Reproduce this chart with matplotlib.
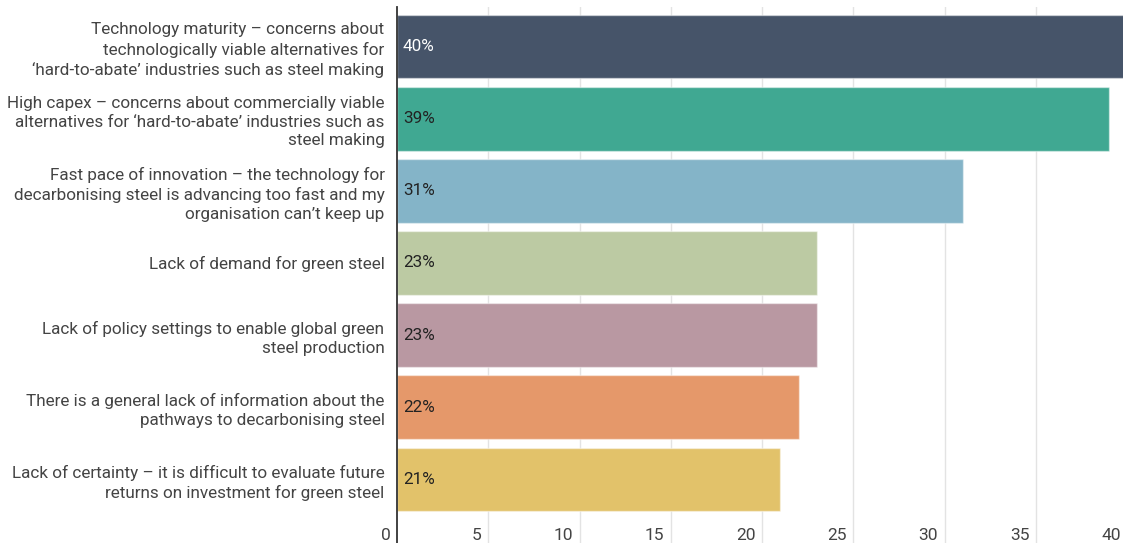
import matplotlib.pyplot as plt

plt.rcParams['font.family'] = ['Roboto', 'DejaVu Sans']

barriers = [
    "Technology maturity \u2013 concerns about\ntechnologically viable alternatives for\n\u2018hard-to-abate\u2019 industries such as steel making",
    "High capex \u2013 concerns about commercially viable\nalternatives for \u2018hard-to-abate\u2019 industries such as\nsteel making",
    "Fast pace of innovation \u2013 the technology for\ndecarbonising steel is advancing too fast and my\norganisation can\u2019t keep up",
    "Lack of demand for green steel",
    "Lack of policy settings to enable global green\nsteel production",
    "There is a general lack of information about the\npathways to decarbonising steel",
    "Lack of certainty \u2013 it is difficult to evaluate future\nreturns on investment for green steel",
]
share = [40, 39, 31, 23, 23, 22, 21]
colors = ["#465469", "#40a892", "#84b4c8", "#bccaa3", "#b998a2", "#e5986a", "#e2c26a"]
label_colors = ["white", "#222222", "#222222", "#222222", "#222222", "#222222", "#222222"]
xticks = [0, 5, 10, 15, 20, 25, 30, 35, 40]

W, H = 1123, 543
fig = plt.figure(figsize=(W / 100, H / 100), dpi=100)
# axes runs a little past the right edge of the figure, so the 40 gridline is cut off
x0, x40 = 397, 1127
ax = fig.add_axes([x0 / W, 0, (x40 - x0) / W, (H - 7) / H])

y = list(range(len(share)))
ax.barh(y, share, height=0.886, color=colors, edgecolor=(1, 1, 1, 0.45), linewidth=1, zorder=2)
ax.set_xlim(0, 40)
ax.set_ylim(6.88, -0.547)

for xt in xticks[1:]:
    ax.axvline(xt, color="#e3e3e3", lw=1, zorder=1)
for xt in xticks:
    ax.text(xt - 0.35, 6.88 - 0.11, str(xt), ha="right", va="center",
            fontsize=12.5, color="#444444", zorder=3)

for i, (v, c) in enumerate(zip(share, label_colors)):
    ax.text(0.33, i, f"{v}%", ha="left", va="center", fontsize=12.3, color=c, zorder=3)

ax.set_xticks([])
ax.set_yticks(y)
ax.set_yticklabels(barriers, fontsize=12.3, color="#444444", linespacing=1.32)
ax.tick_params(axis="y", length=0, pad=9)

for s in ["top", "right", "bottom"]:
    ax.spines[s].set_visible(False)
ax.spines["left"].set_color("#333333")
ax.spines["left"].set_linewidth(1.3)
ax.spines["left"].set_zorder(4)

fig.savefig("out.png", dpi=100)
